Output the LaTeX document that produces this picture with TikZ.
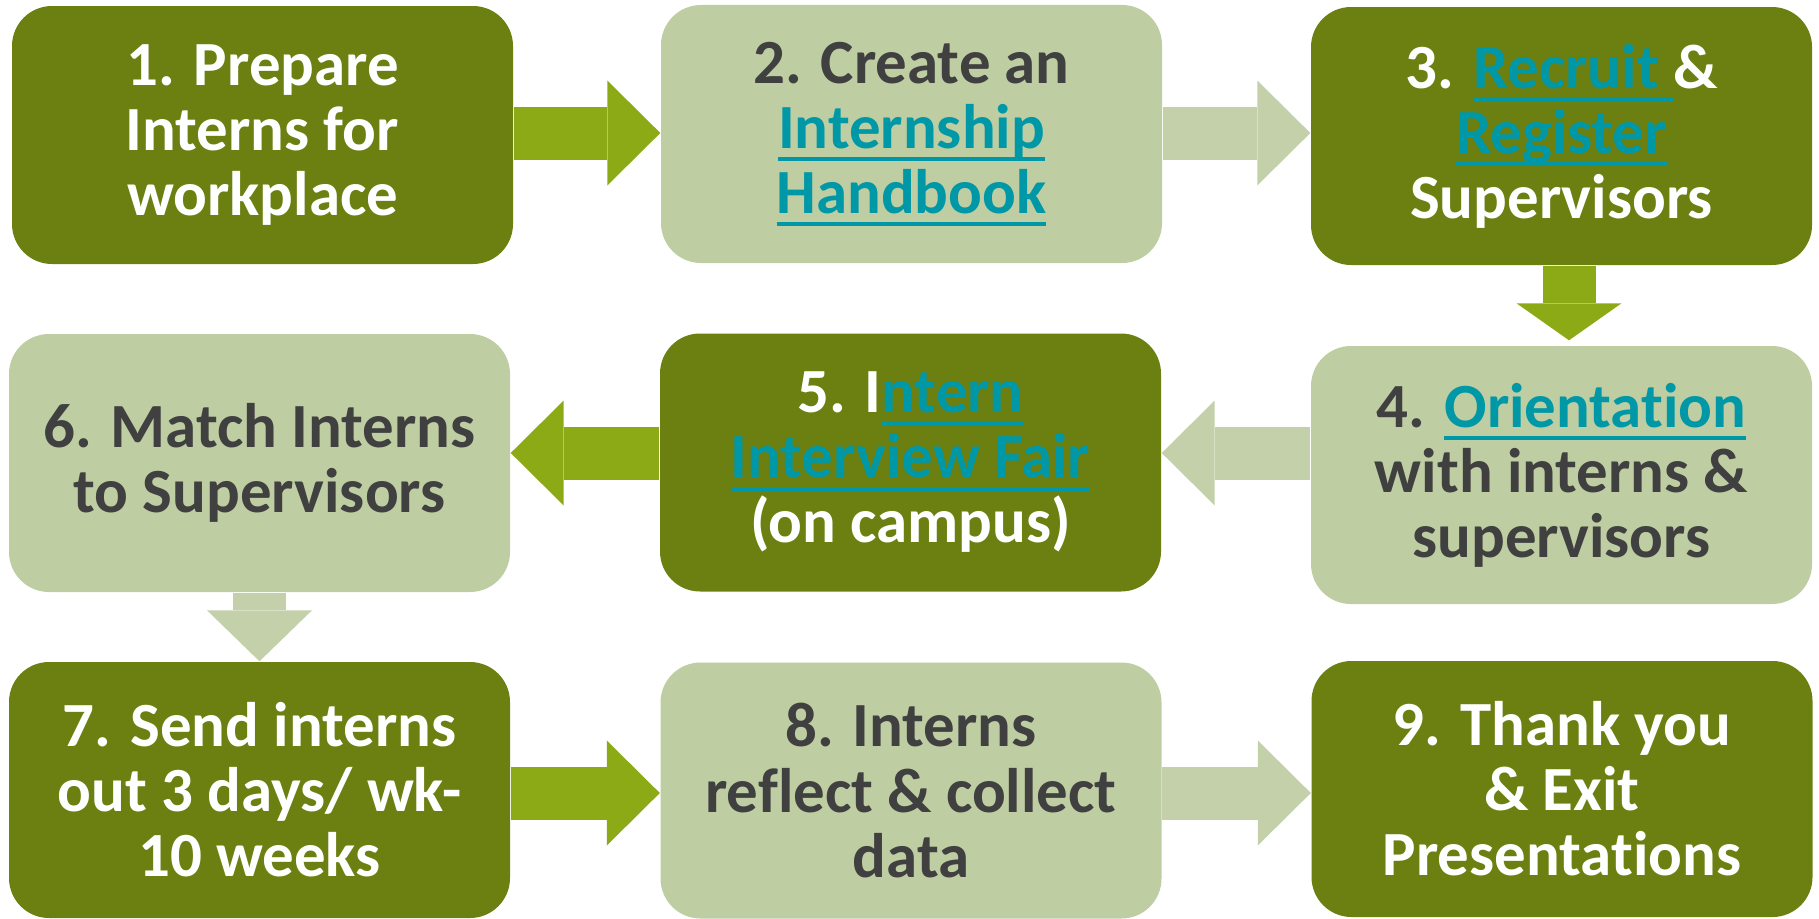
\documentclass[tikz,border=0pt]{standalone}
\usepackage{fontspec}
\setmainfont{Carlito}[Ligatures={NoCommon}]
\usetikzlibrary{arrows.meta, positioning}

\definecolor{olivedark}{RGB}{107,128,17}
\definecolor{olivelight}{RGB}{191,206,162}
\definecolor{arrowbright}{RGB}{139,170,21}
\definecolor{arrowpale}{RGB}{195,208,169}
\definecolor{textgray}{RGB}{64,64,64}
\definecolor{linkteal}{RGB}{0,152,166}

% underlined link text
\newcommand{\lnk}[1]{\textcolor{linkteal}{\setbox0\hbox{#1}\rlap{\rule[-0.13cm]{\wd0}{0.04cm}}\box0}}

\tikzset{
    stepbox/.style={rounded corners=0.4cm, minimum width=5.01cm, minimum height=2.58cm,
        align=center, inner sep=0pt,
        font=\fontsize{17.9}{18.5}\selectfont\bfseries},
    darkbox/.style={stepbox, fill=olivedark, text=white},
    palebox/.style={stepbox, fill=olivelight, text=textgray},
    blockarrow/.style={line width=0.53cm, -{Triangle[width=1.05cm, length=#1, line width=0pt]}},
    blockarrow/.default=0.53cm
}

\begin{document}
\begin{tikzpicture}
    \useasboundingbox (0,0) rectangle (18.19,-9.18);

    % first row
    \node[darkbox] (b1) at (2.625,-1.35) {1. Prepare\\Interns for\\workplace};
    \node[palebox] (b2) at (9.115,-1.34) {2. Create an\\\lnk{Internship}\\\lnk{Handbook}};
    \node[darkbox] (b3) at (15.615,-1.36) {3. \lnk{Recruit }\&\\\lnk{Register}\\Supervisors};

    % second row
    \node[palebox] (b4) at (15.615,-4.75) {4. \lnk{Orientation}\\with interns \&\\supervisors};
    \node[darkbox] (b5) at (9.105,-4.625) {5. I\lnk{ntern}\\\lnk{Interview Fair}\\(on campus)};
    \node[palebox] (b6) at (2.595,-4.63) {6. Match Interns\\to Supervisors};

    % third row
    \node[darkbox, minimum height=2.56cm] (b7) at (2.595,-7.90) {7. Send interns\\out 3 days/ wk-\\10 weeks};
    \node[palebox, minimum height=2.56cm] (b8) at (9.11,-7.905) {8. Interns\\reflect \& collect\\data};
    \node[darkbox, minimum height=2.56cm] (b9) at (15.62,-7.89) {9. Thank you\\\& Exit\\Presentations};

    \coordinate (r1) at (0,-1.33);
    \coordinate (r2) at (0,-4.53);
    \coordinate (r3) at (0,-7.93);
    \coordinate (c3) at (15.69,0);

    % arrows
    \draw[blockarrow, arrowbright] (b1.east |- r1) -- (b2.west |- r1);
    \draw[blockarrow, arrowpale] (b2.east |- r1) -- (b3.west |- r1);
    \draw[blockarrow=0.37cm, arrowbright, shorten >=0.05cm] (b3.south -| c3) -- (b4.north -| c3);
    \draw[blockarrow, arrowpale] (b4.west |- r2) -- (b5.east |- r2);
    \draw[blockarrow, arrowbright] (b5.west |- r2) -- (b6.east |- r2);
    \draw[blockarrow=0.51cm, arrowpale] (b6.south) -- (b7.north);
    \draw[blockarrow, arrowbright] (b7.east |- r3) -- (b8.west |- r3);
    \draw[blockarrow, arrowpale] (b8.east |- r3) -- (b9.west |- r3);
\end{tikzpicture}
\end{document}
